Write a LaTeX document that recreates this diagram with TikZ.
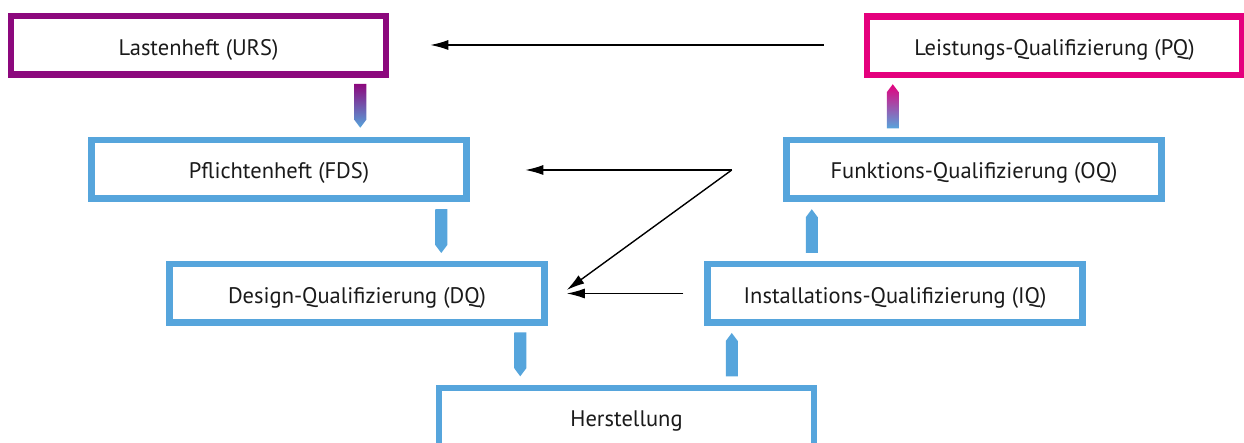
\documentclass[tikz,border=0pt]{standalone}
\usepackage{fontspec}
\setmainfont{PT Sans}
\usetikzlibrary{calc,arrows.meta}
\definecolor{vblue}{RGB}{86,165,220}
\definecolor{vpurple}{RGB}{140,8,125}
\definecolor{vmagenta}{RGB}{228,0,125}
\definecolor{vtext}{RGB}{26,26,26}
\newcommand{\blockdown}[4]{%
  \shade[top color=#3,bottom color=#4] let \p1=(#1), \p2=(#2) in
    (\x1-6pt,\y1) -- (\x1+6pt,\y1) -- (\x1+6pt,\y2+8pt) -- (\x1,\y2) -- (\x1-6pt,\y2+8pt) -- cycle;}
\newcommand{\blockup}[4]{%
  \shade[top color=#3,bottom color=#4] let \p1=(#1), \p2=(#2) in
    (\x1-6pt,\y1) -- (\x1+6pt,\y1) -- (\x1+6pt,\y2-8pt) -- (\x1,\y2) -- (\x1-6pt,\y2-8pt) -- cycle;}
\begin{document}
\begin{tikzpicture}[x=1pt,y=-1pt,
  vbox/.style={draw=vblue,line width=6.5pt,minimum width=375pt,minimum height=58.5pt,
    inner sep=0pt,text=vtext,font=\fontsize{22.5}{26}\selectfont,
    text height=21pt,text depth=1.6pt},
  arr/.style={line width=1.4pt,-{Latex[length=18pt,width=10pt]}}]
\useasboundingbox (0,0) rectangle (1244,443);
\clip (0,0) rectangle (1244,443);
\node[vbox,draw=vpurple] (urs) at (198.5,45.5) {Lastenheft (URS)};
\node[vbox,draw=vmagenta] (pq) at (1054.5,45.75) {Leistungs-Qualifizierung (PQ)};
\node[vbox] (fds) at (279,169.25) {Pflichtenheft (FDS)};
\node[vbox] (oq) at (974,169.25) {Funktions-Qualifizierung (OQ)};
\node[vbox] (dq) at (357,293.5) {Design-Qualifizierung (DQ)};
\node[vbox] (iq) at (895,293.5) {Installations-Qualifizierung (IQ)};
\node[vbox] (herst) at (626.5,417) {Herstellung};
% block arrows
\coordinate (b1s) at ($(urs.south east)+(-29,6)$);
\coordinate (b1e) at ($(b1s |- fds.north)+(0,-9)$);
\blockdown{b1s}{b1e}{vpurple}{vblue}
\coordinate (b2s) at ($(oq.north west)+(109.5,-8.3)$);
\coordinate (b2e) at ($(b2s |- pq.south)+(0,6)$);
\blockup{b2s}{b2e}{vmagenta}{vblue}
\coordinate (b3s) at ($(fds.south east)+(-28.5,7.5)$);
\coordinate (b3e) at ($(b3s |- dq.north)+(0,-8)$);
\blockdown{b3s}{b3e}{vblue}{vblue}
\coordinate (b4s) at ($(iq.north west)+(107.5,-8)$);
\coordinate (b4e) at ($(b4s |- oq.south)+(0,7.5)$);
\blockup{b4s}{b4e}{vblue}{vblue}
\coordinate (b5s) at ($(dq.south east)+(-27.5,6.3)$);
\coordinate (b5e) at ($(b5s |- herst.north)+(0,-8.2)$);
\blockdown{b5s}{b5e}{vblue}{vblue}
\coordinate (b6s) at ($(herst.north west)+(296,-8.2)$);
\coordinate (b6e) at ($(b6s |- iq.south)+(0,7)$);
\blockup{b6s}{b6e}{vblue}{vblue}
% thin arrows
\coordinate (l1s) at ($(pq.west)+(-40,-0.75)$);
\coordinate (l1e) at ($(urs.east)+(41,-0.5)$);
\draw[arr] (l1s) -- (l1e);
\coordinate (l2s) at ($(oq.west)+(-51.5,0.75)$);
\coordinate (l2e) at ($(fds.east)+(55.5,0.75)$);
\draw[arr] (l2s) -- (l2e);
\coordinate (l3e) at ($(dq.east)+(19,-3.5)$);
\draw[arr] (l2s) -- (l3e);
\coordinate (l4s) at ($(iq.west)+(-21,0)$);
\coordinate (l4e) at ($(dq.east)+(19,0)$);
\draw[arr] (l4s) -- (l4e);
\end{tikzpicture}
\end{document}
